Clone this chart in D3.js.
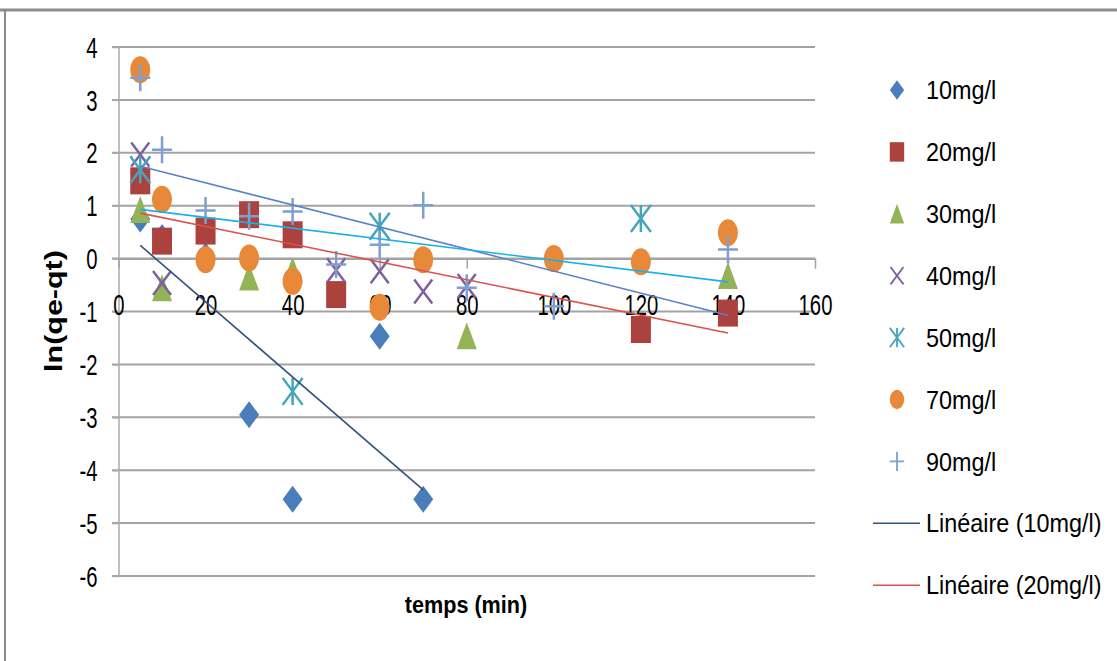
<!DOCTYPE html>
<html><head><meta charset="utf-8">
<script src="https://cdn.jsdelivr.net/npm/d3@7"></script>
<style>body{margin:0;background:#fff}svg{display:block}text{font-family:"Liberation Sans",Arial,sans-serif;fill:#000}</style>
</head><body><svg id="c" width="1117" height="661"></svg>
<script>
// ---- data ----
const xTicks = [0, 20, 40, 60, 80, 100, 120, 140, 160];
const yTicks = [4, 3, 2, 1, 0, -1, -2, -3, -4, -5, -6];
const seriesNames = ["10mg/l", "20mg/l", "30mg/l", "40mg/l", "50mg/l", "70mg/l", "90mg/l"];
const s10x = [5, 10, 20, 30, 40, 60, 70];
const s10y = [0.75, 0.4, 0.05, -2.95, -4.55, -1.47, -4.55];
const s20x = [5, 10, 20, 30, 40, 50, 120, 140];
const s20y = [1.47, 0.33, 0.52, 0.83, 0.45, -0.68, -1.34, -1.03];
const s30x = [5, 10, 30, 40, 80, 140];
const s30y = [0.93, -0.55, -0.35, -0.22, -1.46, -0.32];
const s40x = [5, 10, 50, 60, 70, 80];
const s40y = [1.97, -0.46, -0.22, -0.24, -0.62, -0.52];
const s50x = [5, 40, 60, 120];
const s50y = [1.68, -2.51, 0.61, 0.76];
const s70x = [5, 10, 20, 30, 40, 60, 70, 100, 120, 140];
const s70y = [3.57, 1.12, -0.02, 0.01, -0.43, -0.92, -0.02, 0, -0.06, 0.49];
const s90x = [5, 10, 20, 30, 40, 50, 60, 70, 80, 100, 140];
const s90y = [3.42, 2.06, 0.91, 0.80, 0.89, -0.11, 0.26, 1.01, -0.55, -0.9, 0.17];
const trendNames = ["Linéaire (10mg/l)", "Linéaire (20mg/l)", "Linéaire (90mg/l)", "Linéaire (50mg/l)"];
const trendX0 = [5, 5, 5, 5];
const trendY0 = [0.25, 0.86, 1.745, 0.93];
const trendX1 = [70, 140, 140, 140];
const trendY1 = [-4.37, -1.405, -1.07, -0.44];
const legendLabels = ["10mg/l", "20mg/l", "30mg/l", "40mg/l", "50mg/l", "70mg/l", "90mg/l", "Linéaire (10mg/l)", "Linéaire (20mg/l)"];

// ---- styles ----
const markerColors = ["#4a7ebb", "#ab423e", "#93b356", "#7d60a0", "#46a5bd", "#e8893a", "#7f9fd3"];
const markerShapes = ["diamond", "square", "triangle", "x", "asterisk", "circle", "plus"];
const trendColors = ["#34527a", "#d9534f", "#5a82c8", "#1cb0ea"];

const svg = d3.select("#c");
svg.append("rect").attr("width", 1117).attr("height", 661).attr("fill", "#fff");
// outer frame
svg.append("line").attr("x1", 0).attr("x2", 1117).attr("y1", 10).attr("y2", 10).attr("stroke", "#8c8c8c").attr("stroke-width", 3);
svg.append("line").attr("x1", 5).attr("x2", 5).attr("y1", 9).attr("y2", 661).attr("stroke", "#8c8c8c").attr("stroke-width", 2);

const x = d3.scaleLinear().domain([0, 160]).range([118.5, 815]);
const y = d3.scaleLinear().domain([-6, 4]).range([576, 47]);

// gridlines
svg.append("g").selectAll("line").data(yTicks).join("line")
  .attr("x1", 112).attr("x2", x(160)).attr("y1", d => y(d)).attr("y2", d => y(d))
  .attr("stroke", "#a3a3a3").attr("stroke-width", 2);

// y axis
const ya = svg.append("g").attr("transform", `translate(${x(0)},0)`)
  .call(d3.axisLeft(y).tickValues(yTicks).tickFormat(d3.format("d")).tickSize(6).tickSizeOuter(0));
ya.select(".domain").attr("stroke", "#aaa").attr("stroke-width", 1.5);
ya.selectAll(".tick line").attr("stroke", "#aaa").attr("stroke-width", 1.5);
ya.selectAll(".tick text").attr("x", 0).attr("dy", "0.35em")
  .attr("transform", "translate(-21,0) scale(0.7,1)")
  .style("font-size", "29px").style("font-family", "Liberation Sans, Arial, sans-serif").attr("fill", "#000")
  .text(d => d < 0 ? "-" + Math.abs(d) : d);

// x axis at y=0
const xa = svg.append("g").attr("transform", `translate(0,${y(0)})`)
  .call(d3.axisBottom(x).tickValues(xTicks).tickSize(10).tickSizeOuter(0));
xa.select(".domain").attr("stroke", "#a3a3a3").attr("stroke-width", 2);
xa.selectAll(".tick line").attr("stroke", "#a3a3a3").attr("stroke-width", 1.5);
xa.selectAll(".tick text").attr("y", 0).attr("dy", "0.35em")
  .attr("transform", "translate(0,46) scale(0.7,1)")
  .style("font-size", "29px").style("font-family", "Liberation Sans, Arial, sans-serif").attr("fill", "#000");

// marker drawing
function markerPath(shape, w, h) {
  const a = w / 2, b = h / 2;
  switch (shape) {
    case "diamond": return `M0,${-b}L${a},0L0,${b}L${-a},0Z`;
    case "square": return `M${-a},${-b}H${a}V${b}H${-a}Z`;
    case "triangle": return `M0,${-b}L${a},${b}L${-a},${b}Z`;
    case "x": return `M${-a},${-b}L${a},${b}M${a},${-b}L${-a},${b}`;
    case "asterisk": return `M${-a},${-b}L${a},${b}M${a},${-b}L${-a},${b}M0,${-b}V${b}`;
    case "plus": return `M${-a},0H${a}M0,${-b}V${b}`;
  }
}
function drawMarker(g, shape, color, cx, cy, s) {
  const w = (shape === "x" ? 18 : 20) * s, h = (shape === "x" ? 24 : 27) * s;
  if (shape === "circle") {
    g.append("ellipse").attr("cx", cx).attr("cy", cy).attr("rx", w / 2).attr("ry", h / 2).attr("fill", color);
  } else if (shape === "x" || shape === "asterisk" || shape === "plus") {
    g.append("path").attr("transform", `translate(${cx},${cy})`).attr("d", markerPath(shape, w, h))
      .attr("fill", "none").attr("stroke", color).attr("stroke-width", 2.5 * Math.max(s, 0.7));
  } else {
    g.append("path").attr("transform", `translate(${cx},${cy})`).attr("d", markerPath(shape, w, h)).attr("fill", color);
  }
}

const allX = [s10x, s20x, s30x, s40x, s50x, s70x, s90x];
const allY = [s10y, s20y, s30y, s40y, s50y, s70y, s90y];
const mg = svg.append("g");
allX.forEach((xs, i) => {
  const g = mg.append("g");
  xs.forEach((xv, j) => drawMarker(g, markerShapes[i], markerColors[i], x(xv), y(allY[i][j]), 1));
});

// trendlines
svg.append("g").selectAll("line").data(trendNames).join("line")
  .attr("x1", (d, i) => x(trendX0[i])).attr("y1", (d, i) => y(trendY0[i]))
  .attr("x2", (d, i) => x(trendX1[i])).attr("y2", (d, i) => y(trendY1[i]))
  .attr("stroke", (d, i) => trendColors[i]).attr("stroke-width", 1.6);

// legend
const lg = svg.append("g");
legendLabels.forEach((lab, i) => {
  const ly = 90 + i * 61.9;
  if (i < 7) {
    drawMarker(lg, markerShapes[i], markerColors[i], 897, ly, 0.72);
  } else {
    lg.append("line").attr("x1", 873).attr("x2", 920).attr("y1", ly).attr("y2", ly)
      .attr("stroke", trendColors[i - 7]).attr("stroke-width", 1.6);
  }
  lg.append("text").attr("transform", `translate(926,${ly}) scale(0.9,1)`).attr("dy", "0.35em")
    .style("font-size", "26px").text(lab);
});

// axis titles
svg.append("text").attr("transform", "translate(466,605) scale(0.9,1)").attr("text-anchor", "middle").attr("dy", "0.35em")
  .style("font-size", "24px").style("font-weight", "bold").text("temps (min)");
svg.append("text").attr("transform", "translate(54,311) rotate(-90) scale(1.27,1)").attr("text-anchor", "middle").attr("dy", "0.35em")
  .style("font-size", "24px").style("font-weight", "bold").text("ln(qe-qt)");
</script></body></html>
